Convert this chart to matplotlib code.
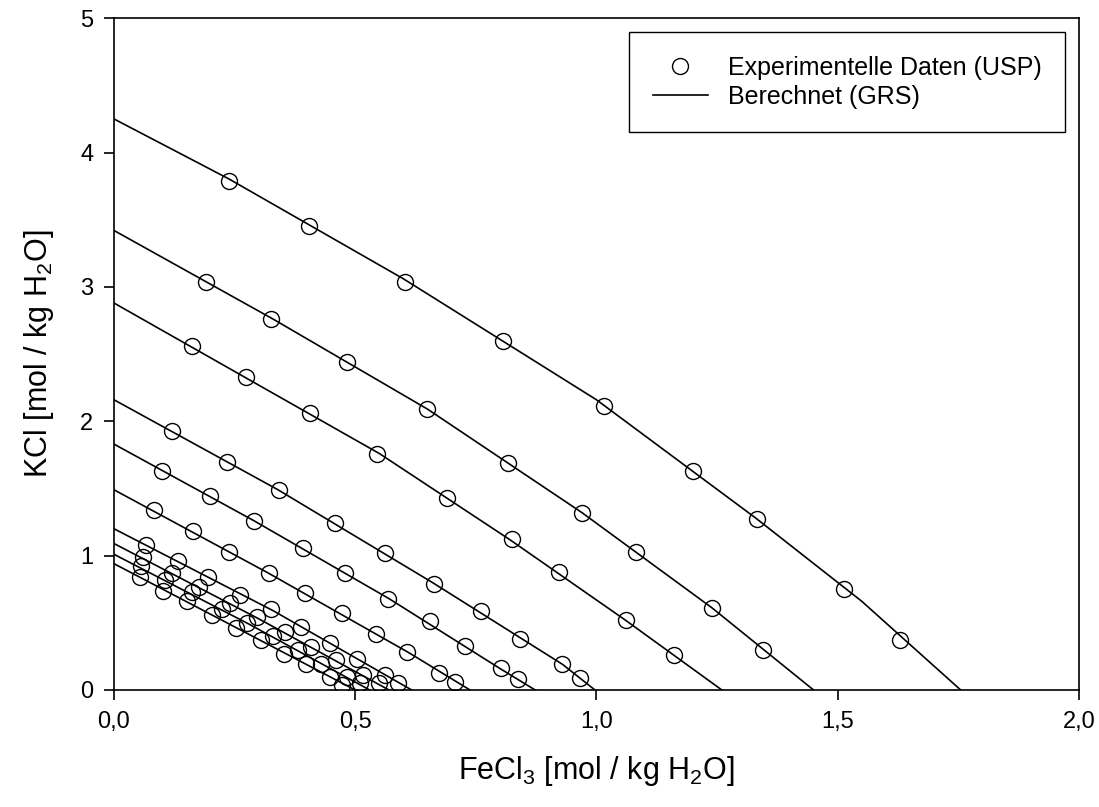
import matplotlib
matplotlib.use("Agg")
import matplotlib.pyplot as plt
from matplotlib.ticker import FuncFormatter

plt.rcParams['font.family'] = ['Liberation Sans', 'DejaVu Sans']
plt.rcParams['mathtext.fontset'] = 'custom'
plt.rcParams['mathtext.rm'] = 'Liberation Sans'
plt.rcParams['mathtext.it'] = 'Liberation Sans'

# experimental points (USP), one list per isotherm, FeCl3 / KCl in mol/kg H2O
exp_x = [
    [0.238, 0.405, 0.604, 0.807, 1.016, 1.201, 1.333, 1.514, 1.630],
    [0.191, 0.325, 0.484, 0.648, 0.817, 0.970, 1.083, 1.240, 1.346],
    [0.161, 0.274, 0.407, 0.546, 0.691, 0.824, 0.923, 1.062, 1.161],
    [0.120, 0.235, 0.342, 0.459, 0.562, 0.663, 0.760, 0.841, 0.928, 0.966],
    [0.100, 0.199, 0.290, 0.391, 0.479, 0.569, 0.655, 0.727, 0.802, 0.838],
    [0.083, 0.164, 0.238, 0.322, 0.396, 0.472, 0.543, 0.608, 0.673, 0.707],
    [0.066, 0.133, 0.194, 0.262, 0.325, 0.387, 0.448, 0.503, 0.562, 0.589],
    [0.061, 0.120, 0.177, 0.240, 0.296, 0.354, 0.409, 0.461, 0.517, 0.550],
    [0.057, 0.105, 0.161, 0.223, 0.276, 0.330, 0.382, 0.430, 0.482, 0.510],
    [0.053, 0.102, 0.151, 0.204, 0.253, 0.304, 0.352, 0.399, 0.448, 0.472],
]
exp_y = [
    [3.79, 3.45, 3.04, 2.60, 2.11, 1.63, 1.27, 0.75, 0.37],
    [3.04, 2.76, 2.44, 2.09, 1.69, 1.32, 1.03, 0.61, 0.30],
    [2.56, 2.33, 2.06, 1.76, 1.43, 1.12, 0.875, 0.52, 0.26],
    [1.93, 1.70, 1.49, 1.24, 1.02, 0.79, 0.59, 0.38, 0.19, 0.09],
    [1.63, 1.44, 1.26, 1.06, 0.87, 0.68, 0.51, 0.33, 0.16, 0.08],
    [1.34, 1.18, 1.03, 0.87, 0.72, 0.57, 0.42, 0.28, 0.13, 0.06],
    [1.08, 0.96, 0.84, 0.71, 0.60, 0.47, 0.35, 0.23, 0.11, 0.05],
    [0.99, 0.87, 0.77, 0.65, 0.54, 0.43, 0.32, 0.22, 0.11, 0.05],
    [0.92, 0.82, 0.73, 0.60, 0.50, 0.40, 0.30, 0.19, 0.10, 0.05],
    [0.84, 0.74, 0.66, 0.56, 0.46, 0.37, 0.27, 0.19, 0.10, 0.04],
]

# calculated curves (GRS)
calc_x = [
    [0.0, 0.24, 0.60, 1.00, 1.33, 1.55, 1.755],
    [0.0, 0.33, 0.65, 0.97, 1.24, 1.45],
    [0.0, 0.27, 0.55, 0.82, 1.06, 1.26],
    [0.0, 0.34, 0.66, 0.93, 0.997],
    [0.0, 0.29, 0.57, 0.80, 0.873],
    [0.0, 0.32, 0.61, 0.738],
    [0.0, 0.33, 0.617],
    [0.0, 0.30, 0.57],
    [0.0, 0.28, 0.53],
    [0.0, 0.25, 0.50],
]
calc_y = [
    [4.25, 3.80, 3.06, 2.16, 1.28, 0.66, 0.0],
    [3.42, 2.76, 2.09, 1.32, 0.61, 0.0],
    [2.88, 2.33, 1.76, 1.12, 0.52, 0.0],
    [2.16, 1.49, 0.80, 0.19, 0.0],
    [1.83, 1.26, 0.68, 0.16, 0.0],
    [1.49, 0.87, 0.28, 0.0],
    [1.20, 0.59, 0.0],
    [1.09, 0.53, 0.0],
    [1.01, 0.49, 0.0],
    [0.94, 0.47, 0.0],
]

fig = plt.figure(figsize=(10.99, 8.07), dpi=100)
ax = fig.add_axes([0.1037, 0.145, 0.878, 0.8325])

for i in range(len(calc_x)):
    ax.plot(calc_x[i], calc_y[i], color='black', lw=1.2,
            label="Berechnet (GRS)" if i == 0 else None, zorder=2)
for i in range(len(exp_x)):
    ax.plot(exp_x[i], exp_y[i], linestyle='none', marker='o', ms=11.5,
            mfc='none', mec='black', mew=1.0,
            label="Experimentelle Daten (USP)" if i == 0 else None, zorder=3)

ax.set_xlim(0, 2.0)
ax.set_ylim(0, 5)
ax.set_xticks([0, 0.5, 1.0, 1.5, 2.0])
ax.set_yticks([0, 1, 2, 3, 4, 5])
ax.xaxis.set_major_formatter(FuncFormatter(lambda v, p: f"{v:.1f}".replace('.', ',')))
ax.tick_params(direction='out', length=7, width=1.2, labelsize=17, pad=8,
               top=False, right=False)
for s in ax.spines.values():
    s.set_linewidth(1.2)

ax.set_xlabel("FeCl$_3$ [mol / kg H$_2$O]", fontsize=22, labelpad=15)
ax.set_ylabel("KCl [mol / kg H$_2$O]", fontsize=22, labelpad=17)

handles, labels = ax.get_legend_handles_labels()
order = [1, 0]
leg = ax.legend([handles[k] for k in order], [labels[k] for k in order],
                loc='upper right', fontsize=18, fancybox=False, framealpha=1,
                edgecolor='black', handlelength=2.2, borderaxespad=0.55,
                borderpad=0.95, labelspacing=0.2)
leg.get_frame().set_linewidth(1.0)

fig.savefig("out.png", dpi=100)
